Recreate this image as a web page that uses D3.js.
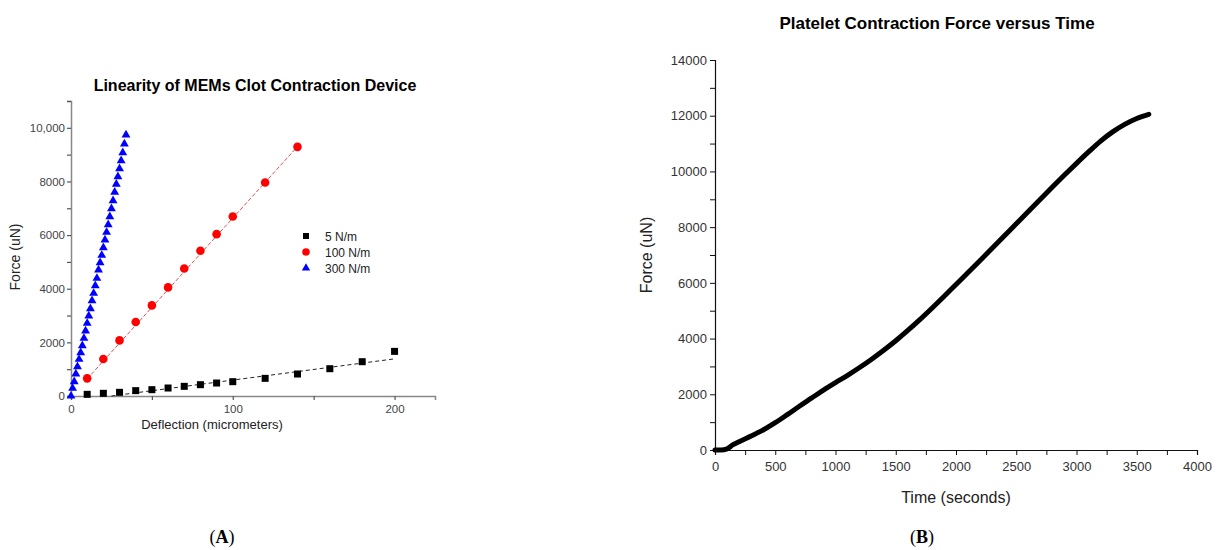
<!DOCTYPE html>
<html>
<head>
<meta charset="utf-8">
<script src="https://cdn.jsdelivr.net/npm/d3@7"></script>
<style>
  body { margin: 0; background: #fff; }
  svg { font-family: Arial, "Liberation Sans", sans-serif; }
</style>
</head>
<body>
<div id="chart"></div>
<script>
// Panel A: deflection vs force, three spring constants
const defl5 = [10, 20, 30, 40, 50, 60, 70, 80, 90, 100, 120, 140, 160, 180, 200];
const force5 = [62, 100, 137, 200, 236, 298, 360, 422, 484, 534, 658, 820, 1018, 1279, 1664];
const defl100 = [10, 20, 30, 40, 50, 60, 70, 80, 90, 100, 120, 140];
const force100 = [658, 1379, 2074, 2757, 3378, 4049, 4757, 5416, 6036, 6694, 7961, 9290];
const defl300 = [0, 1, 2, 3, 4, 5, 6, 7, 8, 9, 10, 11, 12, 13, 14, 15, 16, 17, 18,
  19, 20, 21, 22, 23, 24, 25, 26, 27, 28, 29, 30, 31, 32, 33, 34];
const force300 = [0, 287, 533, 821, 1093, 1369, 1615, 1876, 2152, 2425, 2712, 2984,
  3256, 3555, 3831, 4114, 4390, 4700, 4972, 5248, 5532, 5819, 6106, 6390, 6688,
  6987, 7285, 7598, 7897, 8180, 8478, 8777, 9075, 9400, 9735];
// fitted lines (end points)
const fit5 = [[25, 0], [200, 1385]];
const fit100 = [[10, 640], [140, 9300]];
const seriesNames = ["5 N/m", "100 N/m", "300 N/m"];
const yTicksA = [0, 2000, 4000, 6000, 8000, 10000];
const xTicksA = [0, 100, 200];

// Panel B: force vs time
const timeB = [0, 50, 100, 150, 200, 300, 400, 500, 600, 700, 800, 900, 1000, 1100,
  1200, 1300, 1400, 1500, 1600, 1700, 1800, 1900, 2000, 2100, 2200, 2300, 2400, 2500,
  2600, 2700, 2800, 2900, 3000, 3100, 3200, 3300, 3400, 3500, 3600];
const forceB = [0, 0, 40, 190, 300, 500, 720, 980, 1270, 1570, 1860, 2150, 2420, 2680,
  2960, 3260, 3580, 3920, 4290, 4680, 5090, 5510, 5940, 6370, 6800, 7240, 7680, 8120,
  8560, 9000, 9440, 9870, 10290, 10700, 11090, 11420, 11690, 11900, 12050];

const svg = d3.select("#chart").append("svg")
  .attr("width", 1220)
  .attr("height", 550);

// ---------- Panel A ----------
const xA = d3.scaleLinear().domain([0, 225]).range([71, 435]);
const yA = d3.scaleLinear().domain([0, 11000]).range([396, 101]);
const gA = svg.append("g");
const axisGrey = "#888";

const xAxisA = gA.append("g")
  .attr("transform", `translate(0,${yA(0)})`)
  .call(d3.axisBottom(xA).tickValues([0, 50, 100, 150, 200]).tickSize(4)
    .tickFormat(d => xTicksA.includes(d) ? d : ""));
const yAxisA = gA.append("g")
  .attr("transform", `translate(${xA(0)},0)`)
  .call(d3.axisLeft(yA).tickValues(d3.range(0, 11001, 1000)).tickSize(4)
    .tickFormat(d => yTicksA.includes(d) ? (d === 10000 ? "10,000" : d) : ""));
[xAxisA, yAxisA].forEach(ax => {
  ax.select(".domain").attr("stroke", axisGrey).attr("stroke-width", 1.5);
  ax.selectAll(".tick line").attr("stroke", "#555").attr("stroke-width", 1.2);
  ax.selectAll(".tick text").attr("fill", "#444").style("font-size", "11.5px");
});
yAxisA.selectAll(".tick text").attr("x", -6);
xAxisA.selectAll(".tick text").attr("y", 9);

gA.append("text")
  .attr("x", 255).attr("y", 91)
  .attr("text-anchor", "middle")
  .style("font-size", "16px").style("font-weight", "bold")
  .text("Linearity of MEMs Clot Contraction Device");
gA.append("text")
  .attr("transform", "translate(20,257) rotate(-90)")
  .attr("text-anchor", "middle")
  .style("font-size", "14px").attr("fill", "#222")
  .text("Force (uN)");
gA.append("text")
  .attr("x", 212).attr("y", 429)
  .attr("text-anchor", "middle")
  .style("font-size", "13px").attr("fill", "#222")
  .text("Deflection (micrometers)");

const lineA = d3.line().x(d => xA(d[0])).y(d => yA(d[1]));
gA.append("path").datum(fit5).attr("d", lineA)
  .attr("stroke", "#222").attr("stroke-width", 1).attr("stroke-dasharray", "4,3").attr("fill", "none");
gA.append("path").datum(fit100).attr("d", lineA)
  .attr("stroke", "#e05050").attr("stroke-width", 1).attr("stroke-dasharray", "4,2").attr("fill", "none");

gA.selectAll(".sq").data(d3.zip(defl5, force5)).enter().append("rect")
  .attr("x", d => xA(d[0]) - 3.5).attr("y", d => yA(d[1]) - 3.5)
  .attr("width", 7).attr("height", 7).attr("fill", "#000");
gA.selectAll(".ci").data(d3.zip(defl100, force100)).enter().append("circle")
  .attr("cx", d => xA(d[0])).attr("cy", d => yA(d[1]))
  .attr("r", 4.3).attr("fill", "#ff0000");
const tri = d3.symbol().type(d3.symbolTriangle).size(34);
gA.selectAll(".tr").data(d3.zip(defl300, force300)).enter().append("path")
  .attr("d", tri)
  .attr("transform", d => `translate(${xA(d[0])},${yA(d[1])})`)
  .attr("fill", "#0000ff");

// legend
const legend = gA.append("g").attr("transform", "translate(306,236)");
const legendItems = [
  { name: seriesNames[0], shape: "square", color: "#000" },
  { name: seriesNames[1], shape: "circle", color: "#ff0000" },
  { name: seriesNames[2], shape: "triangle", color: "#0000ff" }
];
legendItems.forEach((it, i) => {
  const row = legend.append("g").attr("transform", `translate(0,${i * 16})`);
  if (it.shape === "square") {
    row.append("rect").attr("x", -3).attr("y", -3).attr("width", 6).attr("height", 6).attr("fill", it.color);
  } else if (it.shape === "circle") {
    row.append("circle").attr("r", 3.8).attr("fill", it.color);
  } else {
    row.append("path").attr("d", d3.symbol().type(d3.symbolTriangle).size(30)).attr("fill", it.color);
  }
  row.append("text").attr("x", 19).attr("y", 4.5)
    .style("font-size", "12px").attr("fill", "#222").text(it.name);
});

// ---------- Panel B ----------
const xB = d3.scaleLinear().domain([0, 4000]).range([715, 1197]);
const yB = d3.scaleLinear().domain([0, 14000]).range([450, 60]);
const gB = svg.append("g");

const xAxisB = gB.append("g")
  .attr("transform", `translate(0,${yB(0)})`)
  .call(d3.axisBottom(xB).tickValues(d3.range(0, 4001, 250)).tickSize(5)
    .tickFormat(d => d % 500 === 0 ? d : ""));
const yAxisB = gB.append("g")
  .attr("transform", `translate(${xB(0)},0)`)
  .call(d3.axisLeft(yB).tickValues(d3.range(0, 14001, 1000)).tickSize(5)
    .tickFormat(d => d % 2000 === 0 ? d : ""));
[xAxisB, yAxisB].forEach(ax => {
  ax.select(".domain").attr("stroke", "#111").attr("stroke-width", 1.2);
  ax.selectAll(".tick line").attr("stroke", "#111");
  ax.selectAll(".tick text").attr("fill", "#333").style("font-size", "13px");
});
xAxisB.selectAll(".tick text").attr("y", 12);

gB.append("text")
  .attr("x", 937).attr("y", 29)
  .attr("text-anchor", "middle")
  .style("font-size", "17px").style("font-weight", "bold")
  .text("Platelet Contraction Force versus Time");
gB.append("text")
  .attr("transform", `translate(652,${(yB(0) + yB(14000)) / 2}) rotate(-90)`)
  .attr("text-anchor", "middle")
  .style("font-size", "16px").attr("fill", "#222")
  .text("Force (uN)");
gB.append("text")
  .attr("x", 956).attr("y", 503)
  .attr("text-anchor", "middle")
  .style("font-size", "16px").attr("fill", "#222")
  .text("Time (seconds)");

const lineB = d3.line().x(d => xB(d[0])).y(d => yB(d[1])).curve(d3.curveMonotoneX);
gB.append("path").datum(d3.zip(timeB, forceB)).attr("d", lineB)
  .attr("stroke", "#000").attr("stroke-width", 5).attr("fill", "none")
  .attr("stroke-linecap", "round");

// panel letters
[["A", 222], ["B", 922]].forEach(([letter, x]) => {
  const t = svg.append("text").attr("x", x).attr("y", 543)
    .attr("text-anchor", "middle")
    .style("font-family", "'Liberation Serif', 'Times New Roman', serif")
    .style("font-size", "18px");
  t.append("tspan").text("(");
  t.append("tspan").style("font-weight", "bold").text(letter);
  t.append("tspan").text(")");
});
</script>
</body>
</html>
